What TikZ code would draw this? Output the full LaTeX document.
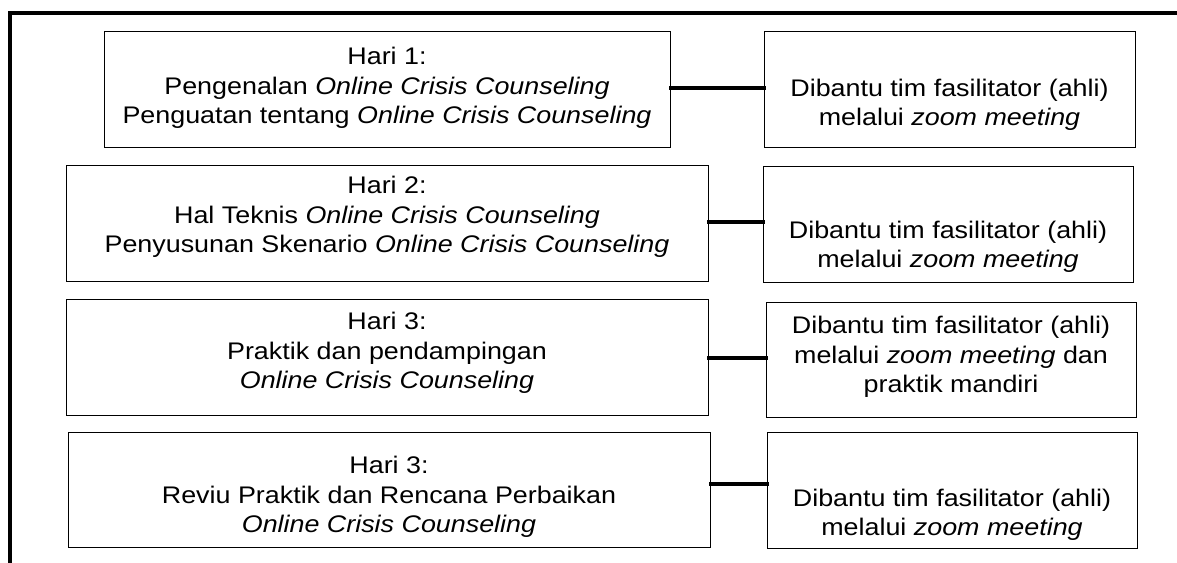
\documentclass[tikz,border=0pt]{standalone}
\usepackage{fontspec}
\setmainfont[FakeStretch=1.12]{Liberation Sans}
\begin{document}
\begin{tikzpicture}[x=1pt,y=-1pt,
  box/.style={draw=black,line width=1.3pt,inner sep=0pt,anchor=north west},
  txt/.style={align=center,inner sep=0pt,font=\fontsize{24}{29.5}\selectfont},
  link/.style={line width=4pt,line cap=rect},
  frame/.style={line width=3.5pt}]
\useasboundingbox (0,0) rectangle (1177,562);
\fill[white] (0,0) rectangle (1177,562);
\draw[frame] (1180,13) -- (10,13) -- (10,565);
% boxes
\node[box,minimum width=566pt,minimum height=116pt] (l1) at (104,31) {};
\node[box,minimum width=371pt,minimum height=116pt] (r1) at (764,31) {};
\node[box,minimum width=642pt,minimum height=116pt] (l2) at (66,165) {};
\node[box,minimum width=370pt,minimum height=116pt] (r2) at (763,166) {};
\node[box,minimum width=642pt,minimum height=116pt] (l3) at (66,299) {};
\node[box,minimum width=370pt,minimum height=115pt] (r3) at (766,302) {};
\node[box,minimum width=642pt,minimum height=115pt] (l4) at (68,432) {};
\node[box,minimum width=370pt,minimum height=116pt] (r4) at (767,432) {};
% texts
\node[txt] (tl1) at (387,88) {Hari 1:\\Pengenalan \textit{Online Crisis Counseling}\\Penguatan tentang \textit{Online Crisis Counseling}};
\node[txt] (tr1) at (949.5,105) {Dibantu tim fasilitator (ahli)\\melalui \textit{zoom meeting}};
\node[txt] (tl2) at (387,217) {Hari 2:\\Hal Teknis \textit{Online Crisis Counseling}\\Penyusunan Skenario \textit{Online Crisis Counseling}};
\node[txt] (tr2) at (948,247) {Dibantu tim fasilitator (ahli)\\melalui \textit{zoom meeting}};
\node[txt] (tl3) at (387,353) {Hari 3:\\Praktik dan pendampingan\\\textit{Online Crisis Counseling}};
\node[txt] (tr3) at (951,357) {Dibantu tim fasilitator (ahli)\\melalui \textit{zoom meeting} dan\\praktik mandiri};
\node[txt] (tl4) at (389,497) {Hari 3:\\Reviu Praktik dan Rencana Perbaikan\\\textit{Online Crisis Counseling}};
\node[txt] (tr4) at (952,515) {Dibantu tim fasilitator (ahli)\\melalui \textit{zoom meeting}};
% connectors
\draw[link] ([yshift=2pt]l1.east) -- ([yshift=2pt]r1.west);
\draw[link] ([yshift=2pt]l2.east) -- ([yshift=3pt]r2.west);
\draw[link] (l3.east) -- ([yshift=2.5pt]r3.west);
\draw[link] ([yshift=6.5pt]l4.east) -- ([yshift=7pt]r4.west);
\end{tikzpicture}
\end{document}
